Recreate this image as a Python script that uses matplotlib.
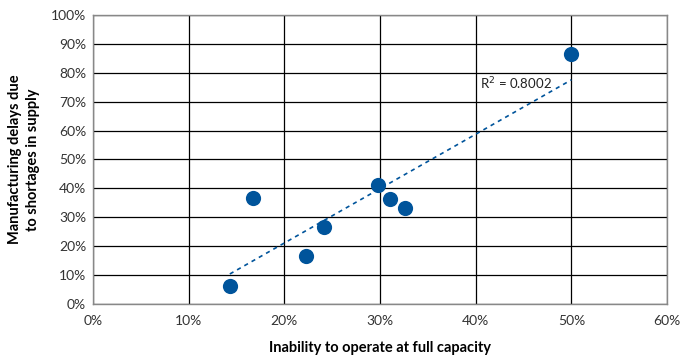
import numpy as np
import matplotlib.pyplot as plt
from matplotlib.ticker import PercentFormatter

plt.rcParams['font.family'] = ['Lato', 'DejaVu Sans']

# share of firms reporting each constraint, in percent
capacity = [14.3, 16.7, 22.3, 24.1, 29.8, 31.0, 32.6, 50.0]
delays = [6.2, 36.7, 16.6, 26.6, 41.2, 36.3, 33.2, 86.5]
r2_label = 'R$^2$ = 0.8002'

blue = '#00549b'

fig = plt.figure(figsize=(6.8, 3.56), dpi=100)
ax = fig.add_axes([0.1368, 0.146, 0.8442, 0.812])

ax.scatter(capacity, delays, s=120, color=blue, zorder=3, linewidths=0)

# linear trend over the data range
slope, icept = np.polyfit(capacity, delays, 1)
xs = np.array([min(capacity), max(capacity)])
ax.plot(xs, slope * xs + icept, color=blue, lw=1.2, ls=(0, (2.5, 2.5)), zorder=2)
ax.text(40.4, 76.2, r2_label, fontsize=9.5, va='center', ha='left', color='#222222')

ax.set_xlim(0, 60)
ax.set_ylim(0, 100)
ax.set_xticks(np.arange(0, 61, 10))
ax.set_yticks(np.arange(0, 101, 10))
ax.xaxis.set_major_formatter(PercentFormatter(decimals=0))
ax.yaxis.set_major_formatter(PercentFormatter(decimals=0))
ax.grid(True, color='black', lw=0.9)
ax.set_axisbelow(True)
ax.tick_params(length=0, labelsize=10, colors='#333333', pad=5)
ax.tick_params(axis='x', pad=8)
for s in ax.spines.values():
    s.set_color('#888888')
    s.set_linewidth(1.0)

ax.set_xlabel('Inability to operate at full capacity', fontsize=10.5,
              fontweight='bold', labelpad=10)
ax.set_ylabel('Manufacturing delays due\nto shortages in supply', fontsize=10.5,
              fontweight='bold', labelpad=8, linespacing=1.35)

fig.savefig('out.png', dpi=100)
